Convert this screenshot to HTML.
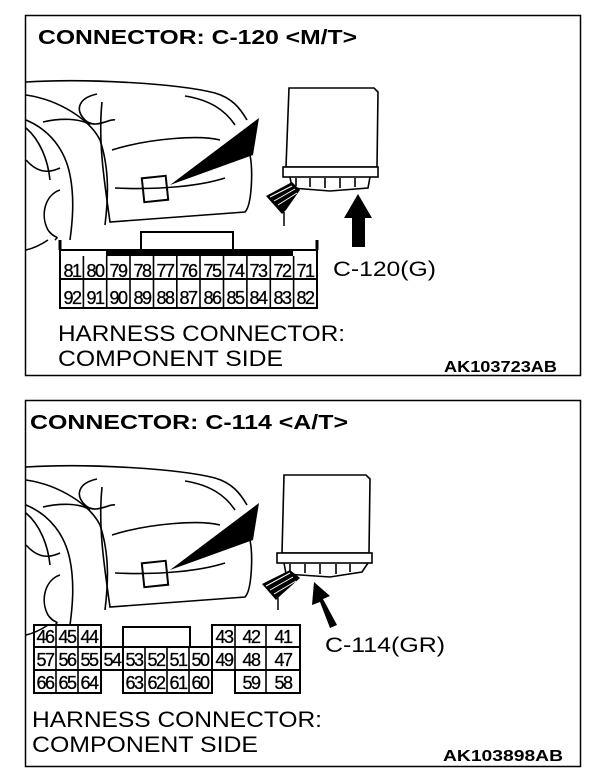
<!DOCTYPE html>
<html><head><meta charset="utf-8"><style>
html,body{margin:0;padding:0;background:#fff;}
svg{display:block}
text{font-family:"Liberation Sans",Arial,sans-serif;fill:#000}
</style></head><body>
<svg width="608" height="780" viewBox="0 0 608 780" xmlns="http://www.w3.org/2000/svg">
<defs>
<g id="car" fill="none" stroke="#000" stroke-width="1.6">
  <path d="M26,82 C90,78 180,84 215,93 C232,98 240,108 247,120"/>
  <path d="M26,95 C60,100 90,120 100,140 C110,170 108,200 105,225"/>
  <path d="M26,120 C50,130 65,150 70,175 C75,200 72,225 70,240"/>
  <path d="M26,128 C40,140 48,160 50,180"/>
  <path d="M26,160 C35,170 45,175 60,168"/>
  <path d="M43,122 C60,118 80,118 90,125"/>
  <path d="M97,94 C78,98 75,110 85,120 C95,130 110,118 115,120"/>
  <path d="M102,102 C98,140 104,180 110,222 L245,212 C252,205 253,170 250,155"/>
  <path d="M112,150 C150,138 200,135 220,140"/>
  <path d="M115,188 C160,190 200,186 225,178"/>
  <path d="M185,96 C210,100 225,110 235,125"/>
  <path d="M60,190 C45,195 40,215 48,230 C55,240 60,235 55,240"/>
  <rect x="143" y="177" width="24" height="24" transform="rotate(-6 155 189)" stroke-width="2"/>
  <path d="M26,250 C35,248 42,244 48,240"/>
</g>
</defs>
<!-- Panel 1 -->
<rect x="25.5" y="15.5" width="555" height="360" fill="none" stroke="#000" stroke-width="1.5"/>
<text x="38" y="44" font-size="20" font-weight="bold" textLength="319" lengthAdjust="spacingAndGlyphs">CONNECTOR: C-120 &lt;M/T&gt;</text>
<use href="#car"/>
<polygon points="170,185 259,118 253,155" fill="#000"/>
<!-- ECU 1 -->
<g fill="none" stroke="#000" stroke-width="1.6">
<path d="M289,88 L374,88 L378,92 L377,167 L286,167 Z" fill="#fff"/>
<rect x="283" y="167" width="95" height="10" fill="#fff"/>
<path d="M290,177 L292,188 L330,191 L368,188 L370,177"/>
<path d="M296,178 v8 M310,178 v9 M325,178 v10 M340,178 v10 M355,178 v9"/>
</g>
<polygon points="266,196 292,182 300,190 286,210 282,214" fill="#000"/>
<path d="M270,197 L292,186 M274,201 L295,189 M278,205 L297,193" stroke="#fff" stroke-width="1"/>
<line x1="284" y1="212" x2="284" y2="226" stroke="#000" stroke-width="1.5"/>
<polygon points="352,247 352,218 344,218 358,194 372,218 365,218 365,247" fill="#000"/>
<text x="333" y="276" font-size="21" textLength="103" lengthAdjust="spacingAndGlyphs">C-120(G)</text>
<!-- connector 1 -->
<g fill="none" stroke="#000" stroke-width="2">
<rect x="141" y="232" width="92" height="18"/>
<rect x="60" y="250" width="257" height="58"/>
<line x1="60" y1="279" x2="317" y2="279"/>
<path d="M60,250 V240 M317,250 V240" stroke-width="3"/>
</g>
<rect x="106" y="250" width="187" height="6" fill="#000"/>
<g stroke="#000" stroke-width="1.6">
<line x1="83.4" y1="256" x2="83.4" y2="308"/><line x1="106.7" y1="256" x2="106.7" y2="308"/><line x1="130" y1="256" x2="130" y2="308"/><line x1="153.5" y1="256" x2="153.5" y2="308"/><line x1="176.8" y1="256" x2="176.8" y2="308"/><line x1="200" y1="256" x2="200" y2="308"/><line x1="223.5" y1="256" x2="223.5" y2="308"/><line x1="246.9" y1="256" x2="246.9" y2="308"/><line x1="270.3" y1="256" x2="270.3" y2="308"/><line x1="293.6" y1="256" x2="293.6" y2="308"/>
</g>
<g font-size="18" text-anchor="middle" letter-spacing="-1.5" stroke="#000" stroke-width="0.3">
<text x="72" y="277">81</text><text x="95" y="277">80</text><text x="118" y="277">79</text><text x="142" y="277">78</text><text x="165" y="277">77</text><text x="188" y="277">76</text><text x="212" y="277">75</text><text x="235" y="277">74</text><text x="258" y="277">73</text><text x="282" y="277">72</text><text x="305" y="277">71</text>
<text x="72" y="304">92</text><text x="95" y="304">91</text><text x="118" y="304">90</text><text x="142" y="304">89</text><text x="165" y="304">88</text><text x="188" y="304">87</text><text x="212" y="304">86</text><text x="235" y="304">85</text><text x="258" y="304">84</text><text x="282" y="304">83</text><text x="305" y="304">82</text>
</g>
<text x="58" y="341" font-size="22" textLength="287" lengthAdjust="spacingAndGlyphs">HARNESS CONNECTOR:</text>
<text x="58" y="366" font-size="22" textLength="225" lengthAdjust="spacingAndGlyphs">COMPONENT SIDE</text>
<text x="444" y="372" font-size="16" font-weight="bold" textLength="113" lengthAdjust="spacingAndGlyphs">AK103723AB</text>

<!-- Panel 2 -->
<rect x="25.5" y="400.5" width="555" height="366" fill="none" stroke="#000" stroke-width="1.5"/>
<text x="30" y="429" font-size="20" font-weight="bold" textLength="318" lengthAdjust="spacingAndGlyphs">CONNECTOR: C-114 &lt;A/T&gt;</text>
<g transform="translate(0,385)"><use href="#car"/><polygon points="170,185 259,118 253,155" fill="#000"/></g>
<g fill="none" stroke="#000" stroke-width="1.6">
<path d="M284,475 L366,475 L370,479 L369,553 L282,553 Z" fill="#fff"/>
<rect x="277" y="553" width="95" height="10" fill="#fff"/>
<path d="M284,563 L286,574 L330,577 L362,572 L368,563"/>
<path d="M290,564 v8 M305,564 v9 M320,564 v10 M336,564 v10 M350,564 v8"/>
</g>
<polygon points="262,584 290,570 300,578 280,596 276,600" fill="#000"/>
<path d="M266,586 L290,573 M270,590 L293,577 M274,594 L296,581" stroke="#fff" stroke-width="1"/>
<line x1="278" y1="598" x2="278" y2="610" stroke="#000" stroke-width="1.5"/>
<polygon points="330,628 320,602 312,605 314,582 330,596 323,599 337,625" fill="#000"/>
<text x="325" y="652" font-size="21" textLength="120" lengthAdjust="spacingAndGlyphs">C-114(GR)</text>
<!-- connector 2 -->
<g fill="none" stroke="#000" stroke-width="2">
<rect x="34" y="625" width="67" height="68"/>
<line x1="34" y1="647" x2="300" y2="647"/><line x1="34" y1="670" x2="101" y2="670"/>
<rect x="101" y="647" width="22" height="23"/>
<rect x="123" y="627" width="67" height="20"/>
<rect x="123" y="647" width="89" height="46"/><line x1="123" y1="670" x2="212" y2="670"/>
<rect x="212" y="625" width="88" height="45"/>
<rect x="235" y="670" width="65" height="23"/>
</g>
<g stroke="#000" stroke-width="1.6">
<line x1="56" y1="625" x2="56" y2="693"/><line x1="78" y1="625" x2="78" y2="693"/>
<line x1="145" y1="647" x2="145" y2="693"/><line x1="167" y1="647" x2="167" y2="693"/><line x1="189" y1="647" x2="189" y2="693"/>
<line x1="235" y1="625" x2="235" y2="693"/><line x1="266" y1="625" x2="266" y2="693"/>
</g>
<g font-size="18" text-anchor="middle" letter-spacing="-1.5" stroke="#000" stroke-width="0.3">
<text x="45" y="643">46</text><text x="67" y="643">45</text><text x="89" y="643">44</text>
<text x="224" y="643">43</text><text x="251" y="643">42</text><text x="283" y="643">41</text>
<text x="45" y="666">57</text><text x="67" y="666">56</text><text x="89" y="666">55</text><text x="112" y="666">54</text><text x="134" y="666">53</text><text x="156" y="666">52</text><text x="178" y="666">51</text><text x="200" y="666">50</text><text x="224" y="666">49</text><text x="251" y="666">48</text><text x="283" y="666">47</text>
<text x="45" y="689">66</text><text x="67" y="689">65</text><text x="89" y="689">64</text><text x="134" y="689">63</text><text x="156" y="689">62</text><text x="178" y="689">61</text><text x="200" y="689">60</text><text x="251" y="689">59</text><text x="283" y="689">58</text>
</g>
<text x="32" y="727" font-size="22" textLength="290" lengthAdjust="spacingAndGlyphs">HARNESS CONNECTOR:</text>
<text x="32" y="752" font-size="22" textLength="226" lengthAdjust="spacingAndGlyphs">COMPONENT SIDE</text>
<text x="443" y="761" font-size="16" font-weight="bold" textLength="120" lengthAdjust="spacingAndGlyphs">AK103898AB</text>
</svg>
</body></html>
